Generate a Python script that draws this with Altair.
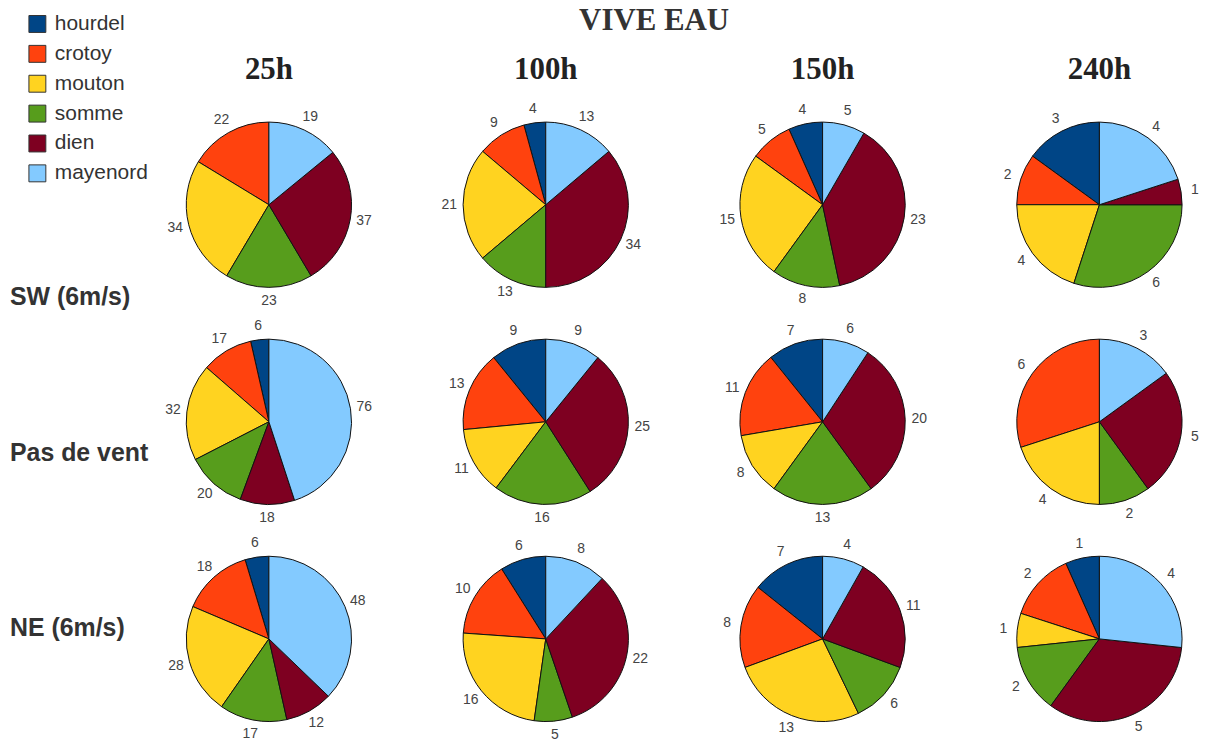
import altair as alt
import pandas as pd

sites = ["hourdel", "crotoy", "mouton", "somme", "dien", "mayenord"]
colors = ["#004586", "#ff420e", "#ffd320", "#579d1c", "#7e0021", "#83caff"]
times = ["25h", "100h", "150h", "240h"]
winds = ["SW (6m/s)", "Pas de vent", "NE (6m/s)"]

# values per site (hourdel, crotoy, mouton, somme, dien, mayenord)
sw_25h = [0, 22, 34, 23, 37, 19]
sw_100h = [4, 9, 21, 13, 34, 13]
sw_150h = [4, 5, 15, 8, 23, 5]
sw_240h = [3, 2, 4, 6, 1, 4]

calm_25h = [6, 17, 32, 20, 18, 76]
calm_100h = [9, 13, 11, 16, 25, 9]
calm_150h = [7, 11, 8, 13, 20, 6]
calm_240h = [0, 6, 4, 2, 5, 3]

ne_25h = [6, 18, 28, 17, 12, 48]
ne_100h = [6, 10, 16, 5, 22, 8]
ne_150h = [7, 8, 13, 6, 11, 4]
ne_240h = [1, 2, 1, 2, 5, 4]

table = {
    "SW (6m/s)": [sw_25h, sw_100h, sw_150h, sw_240h],
    "Pas de vent": [calm_25h, calm_100h, calm_150h, calm_240h],
    "NE (6m/s)": [ne_25h, ne_100h, ne_150h, ne_240h],
}

rows = []
for w in winds:
    for t, vals in zip(times, table[w]):
        for s, v in zip(sites, vals):
            rows.append({"wind": w, "time": t, "site": s, "value": v})
df = pd.DataFrame(rows)

order_expr = "indexof(['mayenord','dien','somme','mouton','crotoy','hourdel'], datum.site)"

pie = (
    alt.Chart()
    .transform_filter("datum.value > 0")
    .transform_calculate(ord=order_expr)
    .mark_arc(outerRadius=83, stroke="#111111", strokeWidth=1)
    .encode(
        theta=alt.Theta("value:Q", stack="normalize"),
        color=alt.Color(
            "site:N",
            scale=alt.Scale(domain=sites, range=colors),
            legend=alt.Legend(
                title=None,
                orient="none",
                legendX=-153,
                legendY=-102,
                symbolType="square",
                symbolSize=289,
                symbolStrokeColor="#333333",
                symbolStrokeWidth=1,
                labelFont="Liberation Sans",
                labelFontSize=21,
                labelColor="#333333",
                labelOffset=7,
                rowPadding=8,
                padding=0,
            ),
        ),
        order=alt.Order("ord:Q", sort="ascending"),
    )
)

labels = (
    alt.Chart()
    .transform_filter("datum.value > 0")
    .transform_calculate(ord=order_expr)
    .mark_text(radius=97, font="Liberation Sans", fontSize=14, color="#444444")
    .encode(
        theta=alt.Theta("value:Q", stack="normalize"),
        detail="site:N",
        order=alt.Order("ord:Q", sort="ascending"),
        text="value:Q",
    )
)

row_label_y = {"SW (6m/s)": 183, "Pas de vent": 121, "NE (6m/s)": 79}
row_layers = []
for w in winds:
    row_layers.append(
        alt.Chart()
        .transform_filter(
            f"datum.wind == '{w}' && datum.time == '25h' && datum.site == 'mayenord'"
        )
        .mark_text(
            align="left",
            baseline="middle",
            font="Liberation Sans",
            fontSize=25,
            fontWeight="bold",
            color="#333333",
        )
        .encode(x=alt.value(-170), y=alt.value(row_label_y[w]), text="wind:N")
    )

cell = alt.layer(pie, labels, *row_layers, data=df).properties(width=180, height=180)

chart = (
    cell.facet(
        row=alt.Row("wind:N", sort=winds, title=None, header=alt.Header(labels=False)),
        column=alt.Column(
            "time:N",
            sort=times,
            title=None,
            header=alt.Header(
                labelFont="Liberation Serif",
                labelFontSize=31,
                labelFontWeight="bold",
                labelColor="#222222",
                labelPadding=29,
            ),
        ),
        spacing={"row": 38, "column": 98},
        bounds="flush",
        title=alt.TitleParams(
            "VIVE EAU",
            font="Liberation Serif",
            fontSize=31,
            fontWeight="bold",
            color="#333333",
            anchor="middle",
            offset=-24,
            dx=50,
        ),
    )
    .properties(padding={"left": 2, "top": -4, "right": 0, "bottom": 0})
    .configure_view(stroke=None)
)

chart.save("out.html", embed_options={"renderer": "svg", "actions": False})
